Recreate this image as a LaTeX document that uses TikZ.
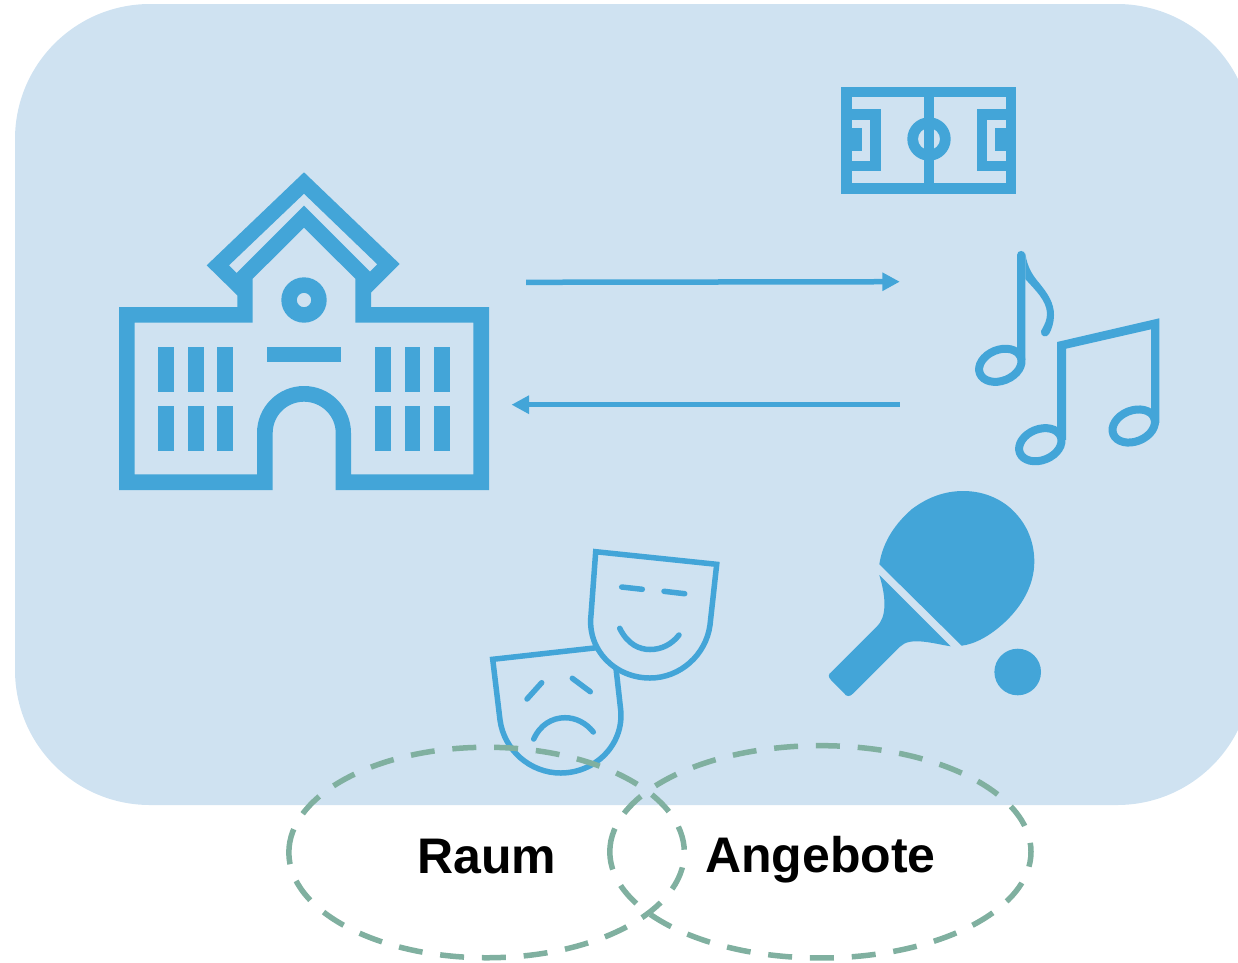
\documentclass[tikz,border=0pt]{standalone}
\usepackage{fontspec}
\setmainfont{Liberation Sans}
\usetikzlibrary{arrows.meta,shapes.geometric}
\definecolor{panelbg}{HTML}{CFE2F1}
\definecolor{iconblue}{HTML}{43A5D8}
\definecolor{dashgreen}{HTML}{80B0A0}
\tikzset{
  iconfill/.style={fill=iconblue,draw=none},
  holefill/.style={fill=panelbg,draw=none},
  iconline/.style={draw=iconblue,line width=5.5pt,line cap=round},
  noteline/.style={draw=iconblue,line width=8pt},
  flowarrow/.style={draw=iconblue,line width=5.5pt,-{Triangle[length=17.5pt,width=17.5pt]}},
  setbound/.style={shape=ellipse,inner sep=0pt,outer sep=0pt},
  setring/.style={draw=dashgreen,line width=5.5pt,dash pattern=on 24pt off 17.85pt},
  setlabel/.style={anchor=base,inner sep=0pt,font=\fontsize{50}{60}\selectfont\bfseries,text=black}
}
\begin{document}
\begin{tikzpicture}[x=1pt,y=-1pt]
\useasboundingbox (0,0) rectangle (1238,962);
% panel
\begin{scope}
\clip (0,0) rectangle (1238,962);
\fill[panelbg,rounded corners=135pt] (15,4) rectangle (1252,805);
\end{scope}
% school
\fill[iconfill,even odd rule]
 (304,172.3)--(206.7,265.3)--(237.3,295.3)--(237.3,307)--(119,307)--(119,490)--(272.7,490)--(272.7,433)
 .. controls (272.7,415.7) and (286.7,401.7) .. (304,401.7)
 .. controls (321.3,401.7) and (335.7,415.7) .. (335.7,433)
 --(335.7,490)--(489,490)--(489,307)--(371,307)--(371,292.7)--(399.7,264)--cycle
 (134.7,322.7)--(252.7,322.7)--(252.7,278.7)--(304,227.7)--(355.3,278.7)--(355.3,322.7)--(473.3,322.7)--(473.3,474.3)--(351,474.3)--(351,433)
 .. controls (351,407) and (330,386) .. (304,386)
 .. controls (278,386) and (257,407) .. (257,433)
 --(257,474.3)--(134.7,474.3)--cycle
 (229,265.3)--(304,193.7)--(377.3,264.3)--(370,271.7)--(304,205.7)--(236.7,273)--cycle
 (304,300) circle [radius=22.7]
 (304,300) circle [radius=7.2];
\foreach \xa/\xb in {158.3/174,188/203.7,217.3/233,375/390.7,404.7/420.3,434/449.7}{
  \fill[iconfill] (\xa,346.7) rectangle (\xb,392);
  \fill[iconfill] (\xa,406) rectangle (\xb,451);
}
\fill[iconfill] (266.7,346.7) rectangle (341.3,362.3);
% pitch
\fill[iconfill] (841.3,86.7) rectangle (1016.3,193.7);
\fill[holefill] (852,97) rectangle (1005.7,183.3);
\fill[iconfill] (923.7,97) rectangle (934,183.3);
\fill[iconfill,even odd rule] (929,139) circle [radius=21.7] (929,139) circle [radius=11];
\fill[iconfill] (923.7,120) rectangle (934,158);
\fill[iconfill] (852,109) rectangle (880.7,171);
\fill[holefill] (852,120) rectangle (870.3,160.7);
\fill[iconfill] (852,127.7) rectangle (862.3,150.7);
\fill[iconfill] (977,109) rectangle (1005.7,171);
\fill[holefill] (987.3,120) rectangle (1005.7,160.7);
\fill[iconfill] (995.3,127.7) rectangle (1005.7,150.7);
% notes
\draw[noteline,shift={(1000.3,365.3)},rotate=22] (0,0) ellipse [x radius=22,y radius=15.5];
\draw[noteline,shift={(1040.3,444.7)},rotate=22] (0,0) ellipse [x radius=22,y radius=15.5];
\draw[noteline,shift={(1133.7,426)},rotate=22] (0,0) ellipse [x radius=22,y radius=15.5];
\fill[iconfill] (1017,255) .. controls (1017,249.6) and (1025.3,249.6) .. (1025.3,255) -- (1025.3,360) -- (1017,358) -- cycle;
\fill[iconfill] (1025.3,253) .. controls (1027,268) and (1034,277) .. (1040,284)
 .. controls (1048,294) and (1054,303) .. (1054,315)
 .. controls (1054,322) and (1052,329) .. (1049,334)
 .. controls (1047,338) and (1040,337) .. (1041,331)
 .. controls (1045,324) and (1047,320) .. (1047,313)
 .. controls (1046,300) and (1036,291) .. (1025.3,279) -- cycle;
\fill[iconfill] (1057,342)--(1159.3,318.3)--(1159.3,423)--(1151,421)--(1151,329.3)--(1066,348.7)--(1066,440)--(1057,438)--cycle;
% masks
\draw[iconline,line join=miter,line cap=butt] (595.7,551.7)--(716.7,564.3)--(710,625)
 .. controls (706,655) and (680,678) .. (650,678)
 .. controls (615,678) and (587,650) .. (591,615) -- cycle;
\draw[iconline] (621.7,587)--(642.3,589.3);
\draw[iconline] (664,591.3)--(684.7,593.7);
\draw[iconline] (619.7,628.3) .. controls (628,645) and (640,649.5) .. (650,649.5)
 .. controls (662,649.5) and (672,644) .. (679,635);
\draw[iconline,line join=miter,line cap=butt] (596.7,647.7)--(492.7,659.3)--(500,720)
 .. controls (504,750) and (530,773) .. (560.7,773)
 .. controls (595,773) and (624,745) .. (620.7,710) -- (616,668.3);
\draw[iconline] (541.7,682.7)--(527,699);
\draw[iconline] (572.3,678.3)--(590.3,691.7);
\draw[iconline] (533.7,739) .. controls (540,725) and (552,717.7) .. (565,717.7)
 .. controls (576,717.7) and (586,723) .. (593.3,732);
% paddle
\fill[iconfill] (879.3,564.3) .. controls (883,540) and (897,522) .. (912,509)
 .. controls (928,497) and (945,491) .. (963.3,491)
 .. controls (985,491) and (1005,500) .. (1018,516)
 .. controls (1029,529) and (1034.3,545) .. (1034.3,561.7)
 .. controls (1034.3,585) and (1022,606) .. (1005,622)
 .. controls (990,636) and (975,644) .. (961.7,645.7) -- cycle;
\fill[iconfill] (879.3,575) -- (950.7,646.3)
 .. controls (935,644) and (910,636) .. (900,646.7)
 -- (853.3,693.3) .. controls (850,697) and (846,697) .. (844,693)
 -- (831,680) .. controls (828,677) and (828,674) .. (831.7,671.7)
 -- (876.7,626.7) .. controls (886,618) and (887,600) .. (879.3,575) -- cycle;
\fill[iconfill] (1017.7,672) circle [radius=23.3];
% arrows
\coordinate (outStart) at (526,282.3);
\coordinate (outEnd) at (899.8,281.7);
\coordinate (backStart) at (899.7,404.7);
\coordinate (backEnd) at (511.5,404.7);
\draw[flowarrow] (outStart) -- (outEnd);
\draw[flowarrow] (backStart) -- (backEnd);
% sets
\node[setbound,minimum width=395.5pt,minimum height=210.5pt] (raumring) at (486.6,852.5) {};
\node[setbound,minimum width=421.2pt,minimum height=212.3pt] (angring) at (820.4,851.8) {};
\draw[setring] (raumring.west) arc [x radius=197.75,y radius=105.25,start angle=180,end angle=540];
\draw[setring] (angring.west) arc [x radius=210.6,y radius=106.15,start angle=180,end angle=540];
\node[setlabel] (raum) at (487,873.5) {Raum};
\node[setlabel] (angebote) at (820.5,872.5) {Angebote};
\end{tikzpicture}
\end{document}
